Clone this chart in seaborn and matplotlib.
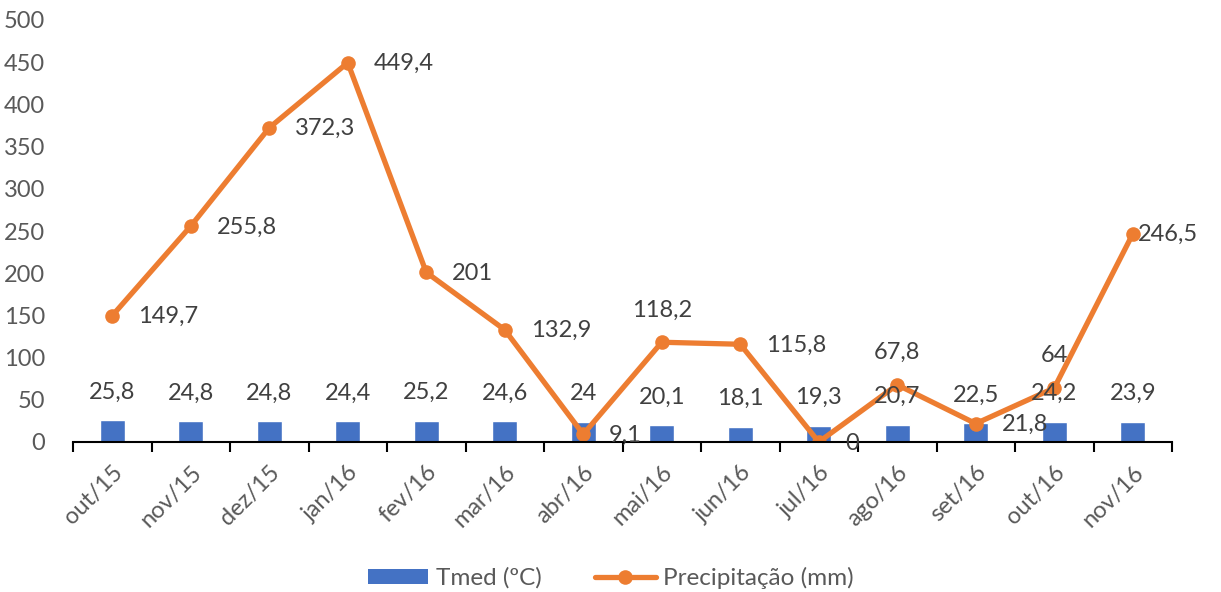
import matplotlib
matplotlib.use("Agg")
import matplotlib.pyplot as plt
import seaborn as sns
import numpy as np
import pandas as pd
from matplotlib.lines import Line2D
from matplotlib.patches import Patch

months = ["out/15", "nov/15", "dez/15", "jan/16", "fev/16", "mar/16", "abr/16",
          "mai/16", "jun/16", "jul/16", "ago/16", "set/16", "out/16", "nov/16"]
tmed = [25.8, 24.8, 24.8, 24.4, 25.2, 24.6, 24.0, 20.1, 18.1, 19.3, 20.7, 22.5, 24.2, 23.9]
precip = [149.7, 255.8, 372.3, 449.4, 201.0, 132.9, 9.1, 118.2, 115.8, 0.0, 67.8, 21.8, 64.0, 246.5]
# where each rainfall label sits relative to its point
precip_label_side = ["right", "right", "right", "right", "right", "right", "right",
                     "above", "right", "right", "above", "right", "above", "near"]

BLUE = "#4472C4"
ORANGE = "#ED7D31"
TEXT = "#595959"
LABEL = "#404040"
FS = 17

sns.set_theme(style="white")
plt.rcParams["font.family"] = ["Lato", "DejaVu Sans"]

fig = plt.figure(figsize=(12.21, 5.92), dpi=100)
ax = fig.add_axes([73 / 1221, 1 - 442 / 592, (1172 - 73) / 1221, (442 - 20) / 592])

df = pd.DataFrame({"mes": months, "tmed": tmed, "precip": precip, "pos": np.arange(len(months))})

sns.barplot(data=df, x="mes", y="tmed", color=BLUE, width=0.32, ax=ax,
            saturation=1, order=months)
sns.lineplot(data=df, x="pos", y="precip", color=ORANGE, linewidth=3.8,
             marker="o", markersize=10.5, markeredgewidth=0, ax=ax, sort=False)

fmt = lambda v: (f"{v:g}").replace(".", ",")

for i, v in enumerate(tmed):
    ax.annotate(fmt(v), (i, v), xytext=(0, 28), textcoords="offset pixels",
                ha="center", va="center", fontsize=FS, color=LABEL)

for i, (v, side) in enumerate(zip(precip, precip_label_side)):
    if side == "right":
        ax.annotate(fmt(v), (i, v), xytext=(26, -1), textcoords="offset pixels",
                    ha="left", va="center", fontsize=FS, color=LABEL)
    elif side == "above":
        ax.annotate(fmt(v), (i, v), xytext=(0, 32), textcoords="offset pixels",
                    ha="center", va="center", fontsize=FS, color=LABEL)
    else:
        ax.annotate(fmt(v), (i, v), xytext=(5, 0), textcoords="offset pixels",
                    ha="left", va="center", fontsize=FS, color=LABEL)

ax.set_xlim(-0.5, len(months) - 0.5)
ax.set_ylim(0, 500)
ax.set_yticks(np.arange(0, 501, 50))
ax.set_xlabel("")
ax.set_ylabel("")

ax.set_xticks(np.arange(len(months)))
ax.set_xticklabels(months, rotation=45, ha="right", rotation_mode="anchor")
ax.set_xticks(np.arange(-0.5, len(months)), minor=True)
ax.tick_params(axis="x", which="major", length=0, pad=14, labelsize=FS, labelcolor=TEXT)
ax.tick_params(axis="x", which="minor", length=7, width=1.5, color="#000000", direction="out",
               bottom=True)
ax.tick_params(axis="y", length=0, pad=20, labelsize=FS, labelcolor=TEXT)

for s in ["top", "right", "left"]:
    ax.spines[s].set_visible(False)
ax.spines["bottom"].set_color("#000000")
ax.spines["bottom"].set_linewidth(1.5)
ax.grid(False)

handles = [Patch(facecolor=BLUE, edgecolor="none"),
           Line2D([0], [0], color=ORANGE, linewidth=3.8, marker="o", markersize=10.5,
                  markeredgewidth=0)]
fig.legend(handles, ["Tmed (ºC)", "Precipitação (mm)"], loc="center",
           bbox_to_anchor=(0.5, 1 - 578 / 592), ncol=2, frameon=False, fontsize=17.5,
           labelcolor=TEXT, handlelength=2.5, handleheight=0.55, columnspacing=2.2,
           handletextpad=0.3)

fig.savefig("out.png", dpi=100)
